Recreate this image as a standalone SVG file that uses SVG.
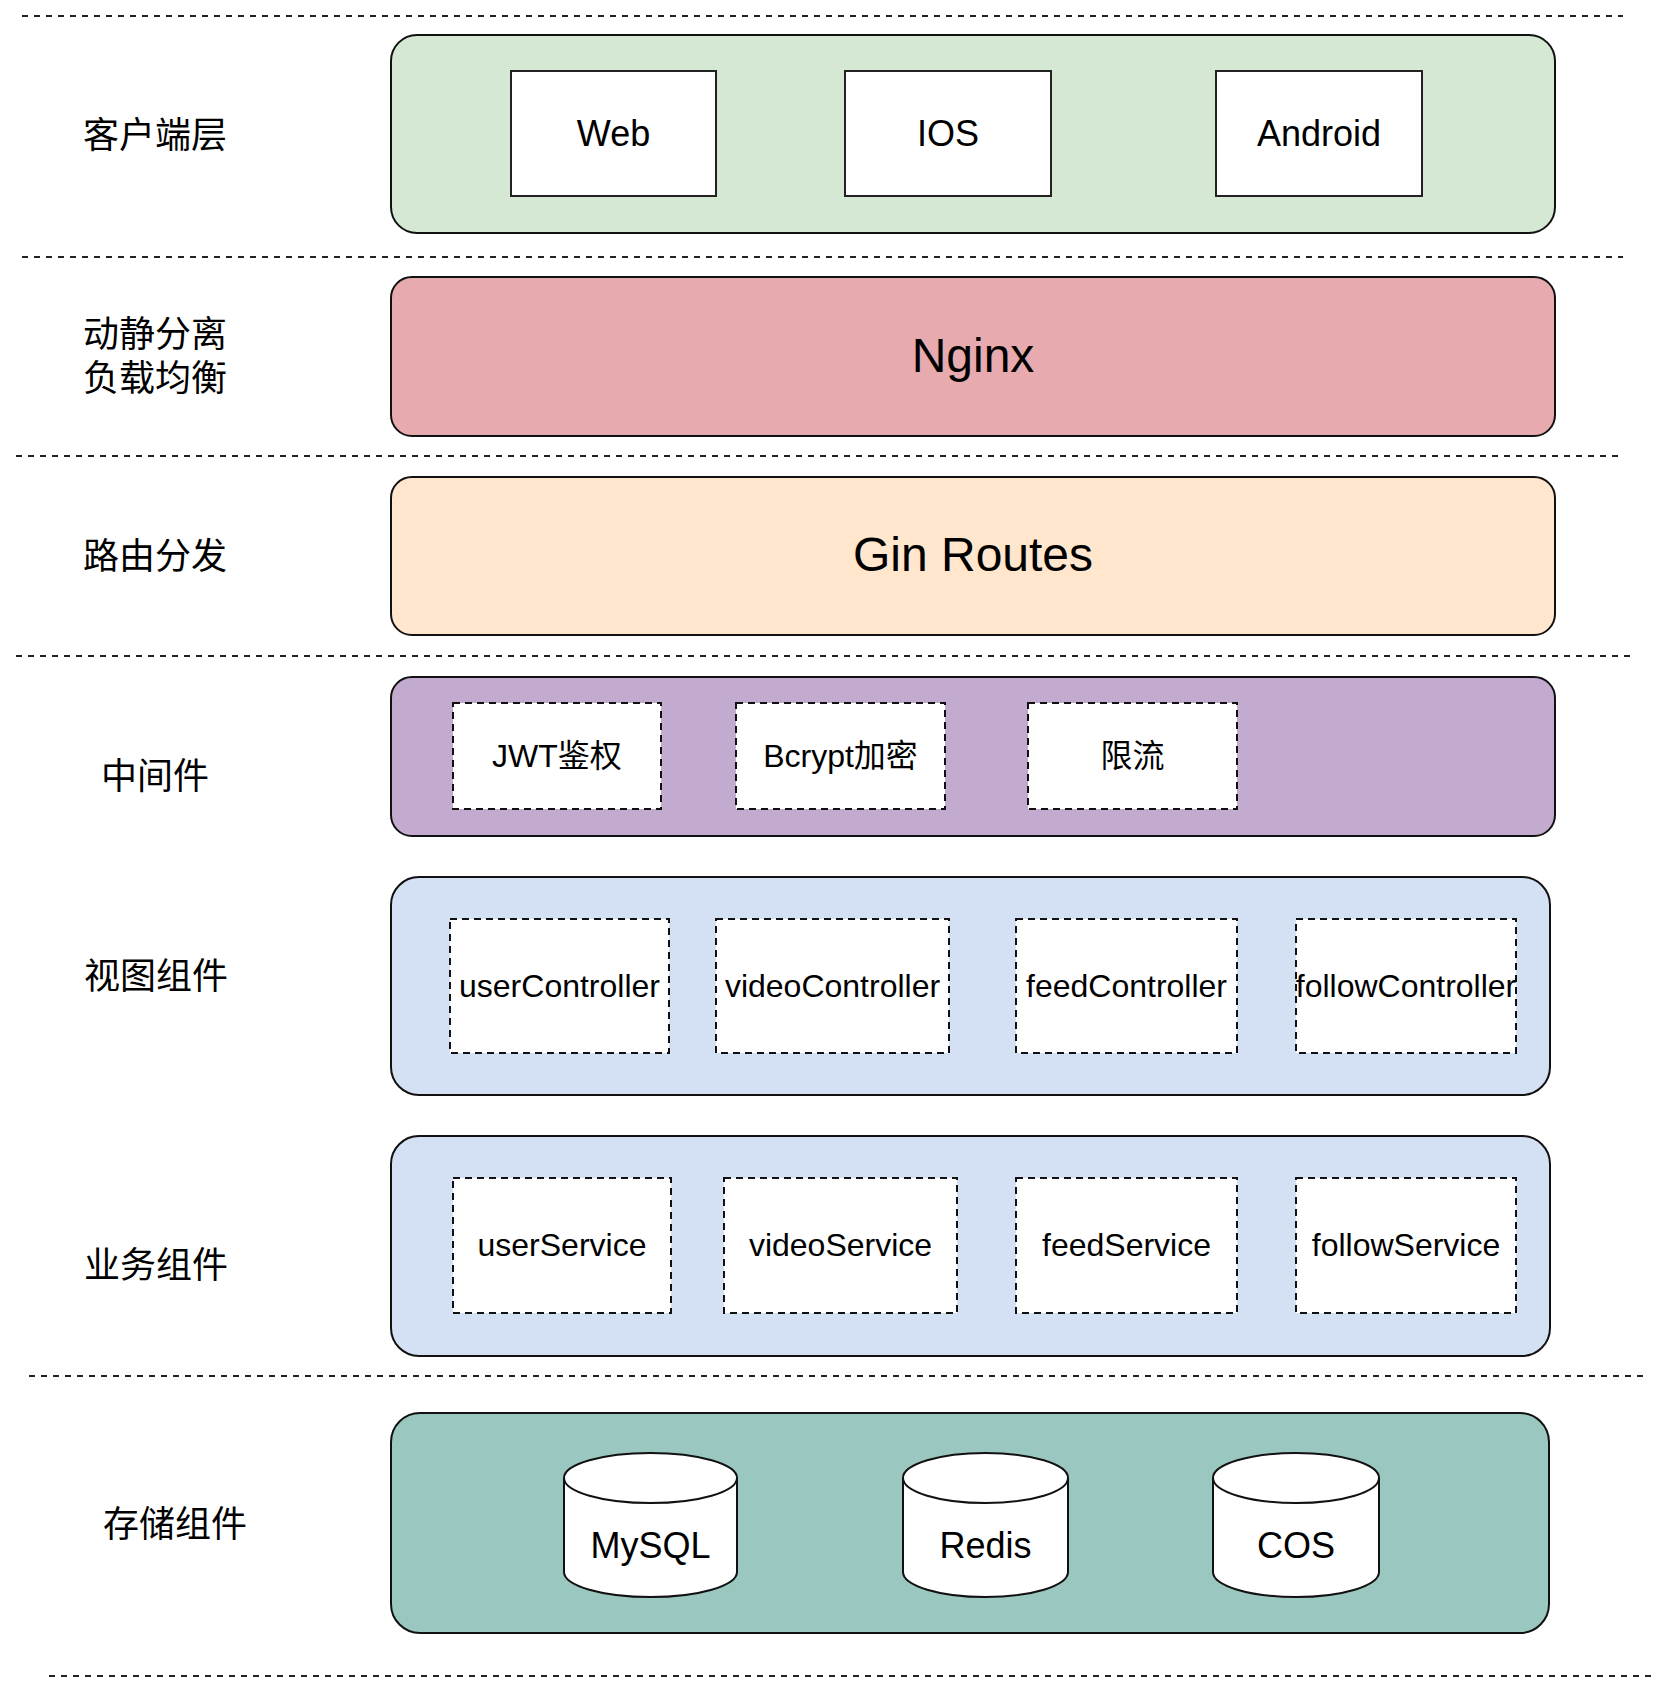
<svg xmlns="http://www.w3.org/2000/svg" width="1672" height="1697" viewBox="0 0 1672 1697">
<defs>
<style>
.sep{stroke:#222;stroke-width:2;stroke-dasharray:6 6;fill:none}
.layer{stroke:#111;stroke-width:2}
.solidbox{fill:#fff;stroke:#222;stroke-width:2}
.dashbox{fill:#fff;stroke:#111;stroke-width:2;stroke-dasharray:7 5}
.cyl{fill:#fff;stroke:#111;stroke-width:2}
text{font-family:"Liberation Sans","Noto Sans CJK SC",Arial,sans-serif;fill:#000;text-anchor:middle}
.lbl{font-size:36px}
.t36{font-size:36px}
.t32{font-size:32px}
.t48{font-size:48px}
</style>
</defs>
<rect width="1672" height="1697" fill="#fff"/>
<g id="separators">
<line class="sep" x1="22" y1="16" x2="1623" y2="16"/>
<line class="sep" x1="22" y1="257" x2="1623" y2="257"/>
<line class="sep" x1="16" y1="456" x2="1618" y2="456"/>
<line class="sep" x1="16" y1="656" x2="1631" y2="656"/>
<line class="sep" x1="29" y1="1376" x2="1643" y2="1376"/>
<line class="sep" x1="49" y1="1676" x2="1652" y2="1676"/>
</g>
<g id="labels">
<text class="lbl" x="155" y="148">客户端层</text>
<text class="lbl" x="155" y="347">动静分离</text>
<text class="lbl" x="155" y="391">负载均衡</text>
<text class="lbl" x="155" y="569">路由分发</text>
<text class="lbl" x="155" y="789">中间件</text>
<text class="lbl" x="156" y="989">视图组件</text>
<text class="lbl" x="156" y="1278">业务组件</text>
<text class="lbl" x="175" y="1537">存储组件</text>
</g>
<g id="client-layer">
<rect class="layer" x="391" y="35" width="1164" height="198" rx="26" ry="26" fill="#d5e8d4"/>
<g id="web"><rect class="solidbox" x="511" y="71" width="205" height="125"/><text class="t36" x="613.5" y="146">Web</text></g>
<g id="ios"><rect class="solidbox" x="845" y="71" width="206" height="125"/><text class="t36" x="948" y="146">IOS</text></g>
<g id="android"><rect class="solidbox" x="1216" y="71" width="206" height="125"/><text class="t36" x="1319" y="146">Android</text></g>
</g>
<g id="nginx">
<rect class="layer" x="391" y="277" width="1164" height="159" rx="21" ry="21" fill="#e7aaae"/>
<text class="t48" x="973" y="372">Nginx</text>
</g>
<g id="gin-routes">
<rect class="layer" x="391" y="477" width="1164" height="158" rx="21" ry="21" fill="#ffe6cc"/>
<text class="t48" x="973" y="571">Gin Routes</text>
</g>
<g id="middleware">
<rect class="layer" x="391" y="677" width="1164" height="159" rx="21" ry="21" fill="#c3abd0"/>
<g id="jwt"><rect class="dashbox" x="453" y="703" width="208" height="106"/><text class="t32" x="557" y="767">JWT鉴权</text></g>
<g id="bcrypt"><rect class="dashbox" x="736" y="703" width="209" height="106"/><text class="t32" x="840.5" y="767">Bcrypt加密</text></g>
<g id="ratelimit"><rect class="dashbox" x="1028" y="703" width="209" height="106"/><text class="t32" x="1132.5" y="767">限流</text></g>
</g>
<g id="view-components">
<rect class="layer" x="391" y="877" width="1159" height="218" rx="28" ry="28" fill="#d4e1f5"/>
<g id="userController"><rect class="dashbox" x="450" y="919" width="219" height="134"/><text class="t32" x="559.5" y="997">userController</text></g>
<g id="videoController"><rect class="dashbox" x="716" y="919" width="233" height="134"/><text class="t32" x="832.5" y="997">videoController</text></g>
<g id="feedController"><rect class="dashbox" x="1016" y="919" width="221" height="134"/><text class="t32" x="1126.5" y="997">feedController</text></g>
<g id="followController"><rect class="dashbox" x="1296" y="919" width="220" height="134"/><text class="t32" x="1406" y="997">followController</text></g>
</g>
<g id="service-components">
<rect class="layer" x="391" y="1136" width="1159" height="220" rx="28" ry="28" fill="#d4e1f5"/>
<g id="userService"><rect class="dashbox" x="453" y="1178" width="218" height="135"/><text class="t32" x="562" y="1256">userService</text></g>
<g id="videoService"><rect class="dashbox" x="724" y="1178" width="233" height="135"/><text class="t32" x="840.5" y="1256">videoService</text></g>
<g id="feedService"><rect class="dashbox" x="1016" y="1178" width="221" height="135"/><text class="t32" x="1126.5" y="1256">feedService</text></g>
<g id="followService"><rect class="dashbox" x="1296" y="1178" width="220" height="135"/><text class="t32" x="1406" y="1256">followService</text></g>
</g>
<g id="storage">
<rect class="layer" x="391" y="1413" width="1158" height="220" rx="29" ry="29" fill="#9ac7bf"/>
<g id="mysql">
<path class="cyl" d="M564,1478 A86.5,25 0 0 1 737,1478 L737,1572 A86.5,25 0 0 1 564,1572 Z"/>
<path class="cyl" fill="none" d="M564,1478 A86.5,25 0 0 0 737,1478"/>
<text class="t36" x="650.5" y="1558">MySQL</text>
</g>
<g id="redis">
<path class="cyl" d="M903,1478 A82.5,25 0 0 1 1068,1478 L1068,1572 A82.5,25 0 0 1 903,1572 Z"/>
<path class="cyl" fill="none" d="M903,1478 A82.5,25 0 0 0 1068,1478"/>
<text class="t36" x="985.5" y="1558">Redis</text>
</g>
<g id="cos">
<path class="cyl" d="M1213,1478 A83,25 0 0 1 1379,1478 L1379,1572 A83,25 0 0 1 1213,1572 Z"/>
<path class="cyl" fill="none" d="M1213,1478 A83,25 0 0 0 1379,1478"/>
<text class="t36" x="1296" y="1558">COS</text>
</g>
</g>
<g id="connectors"></g>
</svg>
